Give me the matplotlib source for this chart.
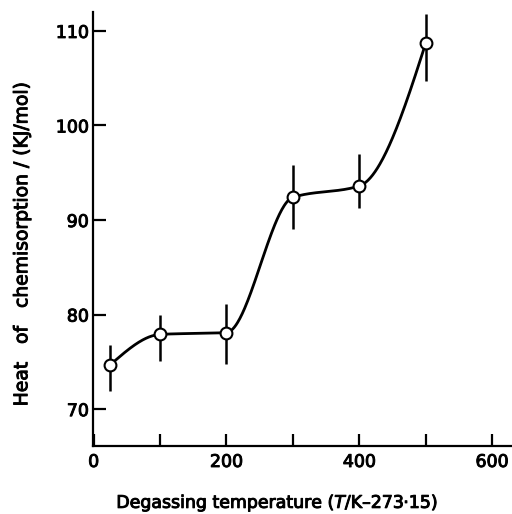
import numpy as np
import matplotlib
matplotlib.use("Agg")
import matplotlib.pyplot as plt
import matplotlib.patheffects as pe

# Data
temperature = [25, 100, 200, 300, 400, 500]
heat = [74.7, 77.9, 78.1, 92.4, 93.6, 108.7]
bar_top = [76.8, 80.0, 81.1, 95.8, 97.0, 111.8]
bar_bottom = [71.9, 75.1, 74.8, 89.1, 91.3, 104.7]

x_ticks = [0, 100, 200, 300, 400, 500, 600]
x_tick_labels = ["0", "", "200", "", "400", "", "600"]
y_ticks = [70, 80, 90, 100, 110]


def pchip(x, y, xn):
    x = np.asarray(x, float)
    y = np.asarray(y, float)
    h = np.diff(x)
    d = np.diff(y) / h
    n = len(x)
    m = np.zeros(n)
    for k in range(1, n - 1):
        if d[k - 1] * d[k] <= 0:
            m[k] = 0
        else:
            w1 = 2 * h[k] + h[k - 1]
            w2 = h[k] + 2 * h[k - 1]
            m[k] = (w1 + w2) / (w1 / d[k - 1] + w2 / d[k])

    def end(h0, h1, d0, d1):
        v = ((2 * h0 + h1) * d0 - h0 * d1) / (h0 + h1)
        if np.sign(v) != np.sign(d0):
            v = 0
        elif np.sign(d0) != np.sign(d1) and abs(v) > abs(3 * d0):
            v = 3 * d0
        return v

    m[0] = end(h[0], h[1], d[0], d[1])
    m[-1] = end(h[-1], h[-2], d[-1], d[-2])
    out = np.empty_like(xn)
    idx = np.clip(np.searchsorted(x, xn) - 1, 0, n - 2)
    for i, xi in enumerate(xn):
        k = idx[i]
        t = (xi - x[k]) / h[k]
        h00 = 2 * t**3 - 3 * t**2 + 1
        h10 = t**3 - 2 * t**2 + t
        h01 = -2 * t**3 + 3 * t**2
        h11 = t**3 - t**2
        out[i] = h00 * y[k] + h10 * h[k] * m[k] + h01 * y[k + 1] + h11 * h[k] * m[k + 1]
    return out


plt.rcParams['font.family'] = ['DejaVu Sans']
plt.rcParams['mathtext.fontset'] = 'dejavusans'
bold_fx = [pe.withStroke(linewidth=0.7, foreground='black')]

fig = plt.figure(figsize=(5.12, 5.14), dpi=100)
ax = fig.add_axes([93 / 512, 68 / 514, 1 - 93 / 512, (446 - 12) / 514])

xs = np.linspace(temperature[0], temperature[-1], 400)
ax.plot(xs, pchip(temperature, heat, xs), color='black', lw=2.0, zorder=2)

h = np.array(heat)
yerr = [h - np.array(bar_bottom), np.array(bar_top) - h]
ax.errorbar(temperature, heat, yerr=yerr, fmt='none', ecolor='black',
            elinewidth=1.8, capsize=0, zorder=1)
ax.plot(temperature, heat, 'o', ms=8.5, mfc='white', mec='black', mew=1.5, zorder=3)

ax.set_xlim(-1, 630)
ax.set_ylim(66.1, 112.0)
ax.set_xticks(x_ticks)
ax.set_xticklabels(x_tick_labels)
ax.set_yticks(y_ticks)

for s in ['top', 'right']:
    ax.spines[s].set_visible(False)
for s in ['left', 'bottom']:
    ax.spines[s].set_linewidth(1.6)

ax.tick_params(axis='both', direction='in', length=9, width=1.6, labelsize=12.5)
ax.tick_params(axis='y', pad=3)
ax.tick_params(axis='x', pad=5)
for lbl in ax.get_xticklabels() + ax.get_yticklabels():
    lbl.set_path_effects(bold_fx)

xl = ax.set_xlabel('Degassing temperature ($T$/K\u2013273\u00b715)', fontsize=12.5, va='center')
xl.set_path_effects(bold_fx)
ax.xaxis.set_label_coords(0.44, -0.131)

yl = ax.set_ylabel('Heat   of   chemisorption / (KJ/mol)', fontsize=13.5, va='center')
yl.set_path_effects(bold_fx)
ax.yaxis.set_label_coords(-0.17, 0.465)

fig.savefig('out.png', dpi=100)
